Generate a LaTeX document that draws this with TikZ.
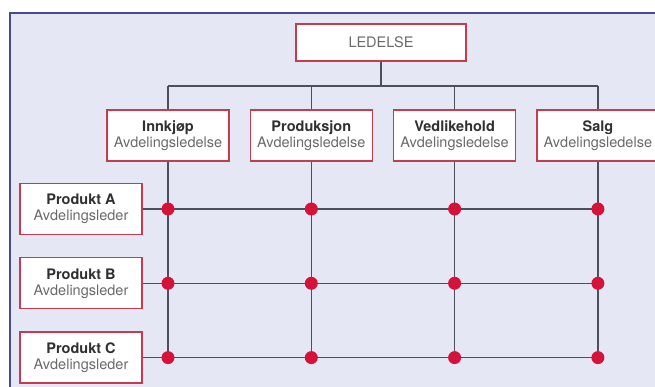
\documentclass[tikz,border=0pt]{standalone}
\usepackage{fontspec}
\setmainfont{TeX Gyre Heros}
\usepackage{xcolor}
\usetikzlibrary{positioning,calc}
\definecolor{framecol}{HTML}{4A4A8E}
\definecolor{bgcol}{HTML}{E6E7F5}
\definecolor{boxred}{HTML}{C83A4E}
\definecolor{dotred}{HTML}{D4123A}
\definecolor{linecol}{HTML}{4C4F5C}
\definecolor{headcol}{HTML}{303030}
\definecolor{subcol}{HTML}{6A6A6A}
\newcommand{\unit}[2]{\textbf{#1}\\[-1pt]{\color{subcol}#2}}

\tikzset{
  orgbox/.style={draw=boxred, line width=1.3pt, fill=white, minimum width=122pt,
    minimum height=51pt, inner sep=0pt, align=center, text=headcol,
    font=\fontsize{14.5}{17}\selectfont},
  topbox/.style={orgbox, minimum width=170pt, minimum height=37pt, text=subcol},
  link/.style={draw=linecol, line width=1.25pt},
  knot/.style={circle, fill=dotred, minimum size=13pt, inner sep=0pt}
}

\begin{document}
\begin{tikzpicture}[x=1pt,y=-1pt]
 \useasboundingbox (0,0) rectangle (655,387);
 % background and frame
 \begin{scope}
  \clip (0,0) rectangle (655,387);
  \draw[framecol, line width=2pt, fill=bgcol] (10,13) rectangle (680,410);
 \end{scope}

 % top
 \node[topbox] (led) at (381,42.5) {LEDELSE};
 \coordinate (bus) at (381,86);

 % departments
 \node[orgbox] (innkjop) at (168,135.5) {\unit{Innkjøp}{Avdelingsledelse}};
 \node[orgbox, right=20pt of innkjop] (prod) {\unit{Produksjon}{Avdelingsledelse}};
 \node[orgbox, right=20pt of prod] (vedl) {\unit{Vedlikehold}{Avdelingsledelse}};
 \node[orgbox, right=20pt of vedl] (salg) {\unit{Salg}{Avdelingsledelse}};

 % products
 \node[orgbox] (proda) at (81,209) {\unit{Produkt A}{Avdelingsleder}};
 \node[orgbox, below=22pt of proda] (prodb) {\unit{Produkt B}{Avdelingsleder}};
 \node[orgbox, below=22pt of prodb] (prodc) {\unit{Produkt C}{Avdelingsleder}};

 % lines
 \draw[link] (led) -- (led |- bus);
 \draw[link] (innkjop |- bus) -- (salg |- bus);
 \foreach \d in {innkjop,prod,vedl,salg} {
   \draw[link] (\d |- bus) -- (\d);
   \draw[link] (\d) -- (\d |- prodc);
 }
 \foreach \p in {proda,prodb,prodc}
   \draw[link] (\p) -- (\p -| salg);

 % knots
 \foreach \p in {proda,prodb,prodc}
   \foreach \d in {innkjop,prod,vedl,salg}
     \node[knot] (\p-\d) at (\d |- \p) {};
\end{tikzpicture}
\end{document}
